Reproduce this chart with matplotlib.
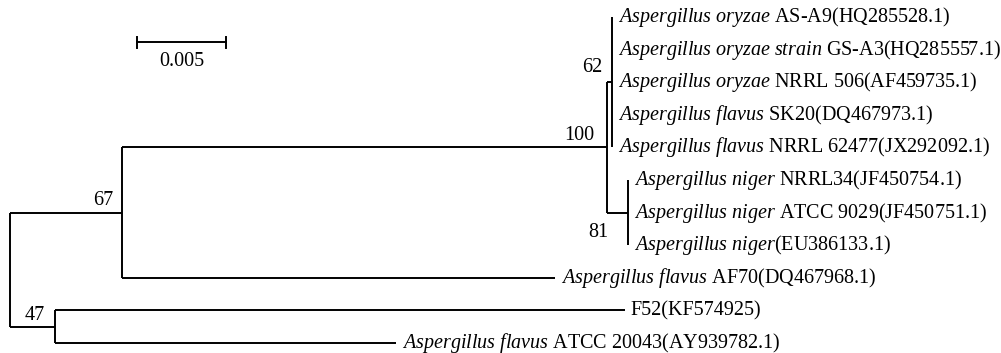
import matplotlib
matplotlib.use("Agg")
import matplotlib.pyplot as plt
import numpy as np

# internal nodes: id, parent, branch length, bootstrap support
node_ids = ["root", "n47", "n67", "n100", "n62", "n81"]
node_parent = [None, "root", "root", "n67", "n100", "n100"]
node_branch = [0.0, 0.00256, 0.00632, 0.02725, 0.00028, 0.00118]
node_support = [None, 47, 67, 100, 62, 81]

# leaves (top to bottom): italic species part, plain strain/accession part
leaf_italic = [
    "Aspergillus oryzae",
    "Aspergillus oryzae strain",
    "Aspergillus oryzae",
    "Aspergillus flavus",
    "Aspergillus flavus",
    "Aspergillus niger",
    "Aspergillus niger",
    "Aspergillus niger",
    "Aspergillus flavus",
    "",
    "Aspergillus flavus",
]
leaf_plain = [
    " AS-A9(HQ285528.1)",
    " GS-A3(HQ285557.1)",
    " NRRL 506(AF459735.1)",
    " SK20(DQ467973.1)",
    " NRRL 62477(JX292092.1)",
    " NRRL34(JF450754.1)",
    " ATCC 9029(JF450751.1)",
    "(EU386133.1)",
    " AF70(DQ467968.1)",
    "F52(KF574925)",
    " ATCC 20043(AY939782.1)",
]
leaf_parent = ["n62"] * 5 + ["n81"] * 3 + ["n67", "n47", "n47"]
leaf_branch = [0, 0, 0, 0, 0, 0, 0, 0, 0.02433, 0.0320, 0.01916]

scale_len = 0.005

# support label offsets in pixels (dx, dy; dy positive = up)
support_offset = {
    "n47": (-10, 11),
    "n67": (-9, 12),
    "n100": (-13, 12),
    "n62": (-10, 15),
    "n81": (-20, -20),
}

plt.rcParams.update({
    "font.family": ["Liberation Serif", "DejaVu Serif"],
    "mathtext.fontset": "custom",
    "mathtext.rm": "Liberation Serif",
    "mathtext.it": "Liberation Serif:italic",
})
FS = 14.5

W, H, DPI = 1001, 353, 100
fig = plt.figure(figsize=(W / DPI, H / DPI), dpi=DPI)
ax = fig.add_axes([0, 0, 1, 1])
ax.axis("off")

px_per_unit = 89 / scale_len
x0_px = 9.5
y0_px, dy_px = 17.0, 32.6
ax.set_xlim(-x0_px / px_per_unit, (W - x0_px) / px_per_unit)
ax.set_ylim((H - y0_px) / dy_px, -y0_px / dy_px)

# node x positions (cumulative) and y positions (mean of children extent)
parent_of = dict(zip(node_ids, node_parent))
blen = dict(zip(node_ids, node_branch))
node_x = {}
for nid in node_ids:
    x, p = 0.0, nid
    while p is not None:
        x += blen[p]
        p = parent_of[p]
    node_x[nid] = x

children = {nid: [] for nid in node_ids}
for nid, p in zip(node_ids, node_parent):
    if p is not None:
        children[p].append(("node", nid))
for i, p in enumerate(leaf_parent):
    children[p].append(("leaf", i))

node_y = {}


def get_y(kind, key):
    if kind == "leaf":
        return float(key)
    if key in node_y:
        return node_y[key]
    ys = [get_y(k, c) for k, c in children[key]]
    node_y[key] = (min(ys) + max(ys)) / 2
    return node_y[key]


get_y("node", "root")

lw = 1.4
for nid in node_ids:
    ys = [get_y(k, c) for k, c in children[nid]]
    ax.plot([node_x[nid]] * 2, [min(ys), max(ys)], color="black", lw=lw, solid_capstyle="butt")
    p = parent_of[nid]
    if p is not None:
        ax.plot([node_x[p], node_x[nid]], [node_y[nid]] * 2, color="black", lw=lw, solid_capstyle="butt")

for i in range(len(leaf_plain)):
    px = node_x[leaf_parent[i]]
    lx = px + leaf_branch[i]
    if leaf_branch[i] > 0:
        ax.plot([px, lx], [i, i], color="black", lw=lw, solid_capstyle="butt")
    if leaf_italic[i]:
        label = r"$\mathit{" + leaf_italic[i].replace(" ", r"\ ") + "}$" + leaf_plain[i]
    else:
        label = leaf_plain[i]
    ax.annotate(label, xy=(lx, i), xytext=(6, 0), textcoords="offset pixels",
                ha="left", va="center", fontsize=FS)

for nid, sup in zip(node_ids, node_support):
    if sup is None:
        continue
    dx, dy = support_offset[nid]
    ax.annotate(str(sup), xy=(node_x[nid], node_y[nid]), xytext=(dx, dy),
                textcoords="offset pixels", ha="right", va="center", fontsize=FS)

# scale bar
sb_x = (137 - x0_px) / px_per_unit
sb_y = (42 - y0_px) / dy_px
tick = 5.5 / dy_px
ax.plot([sb_x, sb_x + scale_len], [sb_y, sb_y], color="black", lw=lw)
for xx in (sb_x, sb_x + scale_len):
    ax.plot([xx, xx], [sb_y - tick, sb_y + tick], color="black", lw=lw)
ax.annotate(f"{scale_len:g}", xy=(sb_x + scale_len / 2, sb_y), xytext=(0, -20),
            textcoords="offset pixels", ha="center", va="center", fontsize=FS)

fig.savefig("out.png", dpi=DPI)
